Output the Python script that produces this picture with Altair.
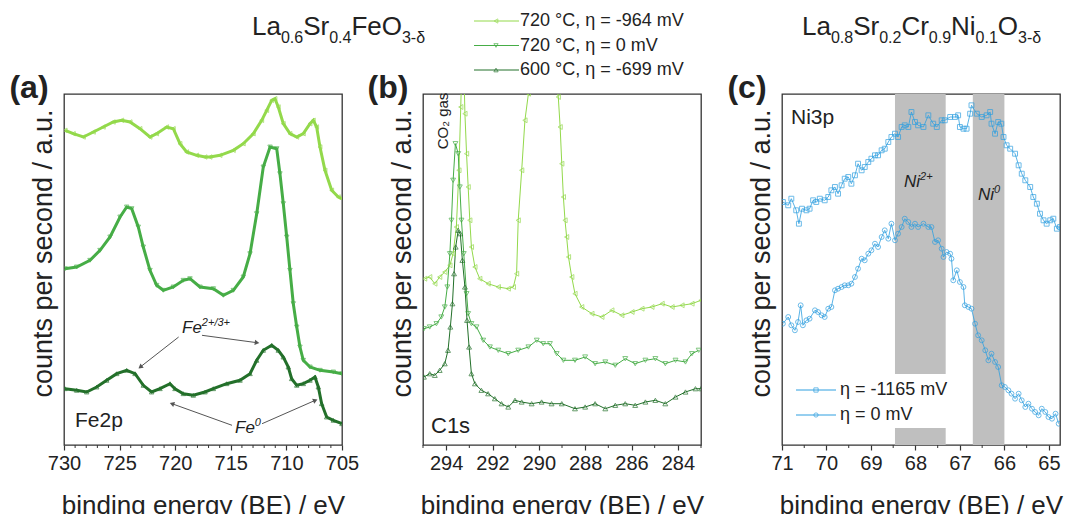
import math
import altair as alt
import pandas as pd

# ---------------- data ----------------
green_labels = ["720 °C, η = -964 mV", "720 °C, η = 0 mV", "600 °C, η = -699 mV"]
green_colors = ["#93d94b", "#46ad46", "#23702a"]
green_shapes = ["triangle-left", "triangle-down", "triangle-up"]

ni_labels = ["η = -1165 mV", "η = 0 mV"]
ni_shapes = ["square", "circle"]
ni_color = "#2f9fe0"

# Panel (a) Fe2p
fe_hot_neg_be = [729.9, 729.16, 728.26, 727.36, 726.47, 725.57, 724.81, 724.06, 723.17, 722.27,
                 721.67, 720.77, 720.17, 719.57, 718.97, 718.07, 717.32, 716.87, 715.97, 714.77,
                 713.88, 712.98, 712.22, 711.77, 711.32, 711.03, 710.73, 710.28, 709.68, 709.07,
                 708.48, 707.88, 707.58, 707.28, 706.98, 706.53, 705.93, 705.33, 705.0]
fe_hot_neg_cps = [314.7, 311.3, 308, 313, 318, 323, 324.7, 323, 316.3, 308,
                  311.3, 318, 316.3, 301.3, 293, 289.7, 288, 288, 289.7, 294.7,
                  301.3, 311.3, 324.7, 334.7, 344.7, 346.3, 338, 321.3, 311.3, 308,
                  311.3, 321.3, 324.7, 318, 298, 274.7, 254.7, 248, 246.3]
fe_hot_zero_be = [729.91, 728.86, 727.66, 726.76, 725.86, 724.96, 724.36, 723.91, 723.32, 722.87,
                  722.27, 721.67, 721.07, 720.17, 719.27, 718.67, 717.77, 716.57, 715.67, 714.77,
                  713.88, 713.27, 712.67, 712.08, 711.47, 710.87, 710.58, 710.28, 709.97, 709.68,
                  709.38, 709.07, 708.78, 708.48, 707.88, 706.98, 705.78, 705.0]
fe_hot_zero_cps = [176.3, 178, 184.7, 194.7, 208, 228, 238, 236.3, 218, 198,
                   174.7, 159.7, 154.7, 158, 164.7, 166.3, 158, 156.3, 149.7, 154.7,
                   168, 191.3, 231.3, 278, 298, 296.3, 271.3, 241.3, 208, 174.7,
                   141.3, 118, 98, 84.7, 78, 74.7, 73, 71.3]
fe_cool_neg_be = [729.91, 728.86, 727.96, 727.06, 726.16, 725.26, 724.36, 723.61, 722.87, 722.12,
                  721.37, 720.47, 720.02, 719.27, 718.37, 717.32, 716.57, 715.37, 714.17, 713.27,
                  712.67, 712.08, 711.32, 710.73, 710.28, 709.83, 709.53, 709.07, 708.48, 707.88,
                  707.43, 707.13, 706.83, 706.38, 705.78, 705.0]
fe_cool_neg_cps = [56.3, 54.7, 53, 58, 64.7, 71.3, 74.7, 71.3, 59.7, 53,
                   56.3, 61.3, 56.3, 51.3, 49.7, 53, 56.3, 61.3, 64.7, 71.3,
                   84.7, 94.7, 99.7, 94.7, 88, 78, 66.3, 59.7, 61.3, 64.7,
                   68, 58, 41.3, 28, 24.7, 21.3]

# Panel (b) C1s
c_hot_neg_be = [294.93, 294.71, 294.49, 294.28, 294.06, 293.84, 293.70, 293.56, 293.45, 293.37,
                293.28, 293.19, 293.12, 293.05, 292.98, 292.91, 292.76, 292.55, 292.19, 291.75,
                291.32, 291.10, 290.96, 290.89, 290.74, 290.60, 290.45, 290.2, 289.8, 289.45,
                289.16, 289.08, 289.01, 288.94, 288.87, 288.80, 288.72, 288.58, 288.44, 288.15,
                287.71, 287.28, 286.85, 286.42, 285.98, 285.55, 285.12, 284.68, 284.25, 283.82,
                283.39, 283.0]
c_hot_neg_cps = [166.3, 168, 161.3, 168, 173, 179.7, 191.3, 218, 274.7, 338,
                 420, 331.3, 291.3, 258, 224.7, 198, 178, 166.3, 161.3, 158,
                 156.3, 158, 171.3, 224.7, 274.7, 324.7, 351.3, 400, 430, 400,
                 348, 318, 281.3, 248, 224.7, 208, 188, 168, 151.3, 138,
                 131.3, 128, 134.7, 129.7, 133, 136.3, 138, 141.3, 138, 139.7,
                 141.3, 144.7]
c_hot_zero_be = [294.96, 294.71, 294.42, 294.21, 294.06, 293.95, 293.84, 293.77, 293.70, 293.60,
                 293.48, 293.41, 293.34, 293.24, 293.12, 293.05, 292.91, 292.69, 292.40, 292.11,
                 291.75, 291.32, 290.89, 290.45, 290.09, 289.81, 289.52, 289.23, 288.94, 288.44,
                 288.0, 287.57, 287.13, 286.70, 286.27, 285.84, 285.40, 284.97, 284.54, 284.10,
                 283.67, 283.39, 283.10]
c_hot_zero_cps = [116.3, 118, 121.3, 128, 138, 158, 191.3, 224.7, 264.7, 301.3,
                  291.3, 258, 224.7, 191.3, 151.3, 131.3, 121.3, 118, 104.7, 98,
                  94.7, 91.3, 94.7, 98, 104.7, 101.3, 101.3, 91.3, 84.7, 84.7,
                  88, 81.3, 83, 79.7, 86.3, 81.3, 84.7, 86.3, 81.3, 84.7,
                  83, 91.3, 94.7]
c_cool_neg_be = [294.96, 294.71, 294.49, 294.28, 294.06, 293.92, 293.82, 293.73, 293.66, 293.59,
                 293.48, 293.39, 293.30, 293.19, 293.10, 293.01, 292.91, 292.76, 292.48, 292.19,
                 291.90, 291.61, 291.32, 291.03, 290.74, 290.31, 289.88, 289.45, 289.01, 288.44,
                 288.0, 287.57, 287.13, 286.70, 286.27, 285.84, 285.40, 284.97, 284.54, 284.10,
                 283.67, 283.24, 283.0]
c_cool_neg_cps = [68, 71.3, 69.7, 74.7, 81.3, 94.7, 118, 141.3, 171.3, 198,
                  214.7, 211.3, 184.7, 158, 124.7, 98, 71.3, 61.3, 54.7, 51.3,
                  46.3, 41.3, 38, 44.7, 43, 41.3, 43, 41.3, 41.3, 36.3,
                  38, 41.3, 36.3, 39.7, 41.3, 39.7, 43, 44.7, 41.3, 48,
                  53, 56.3, 56.3]

# Panel (c) Ni3p
ni_neg_be = [70.98, 70.86, 70.79, 70.68, 70.62, 70.55, 70.45, 70.38, 70.30, 70.23,
             70.15, 70.04, 69.96, 69.89, 69.81, 69.74, 69.66, 69.59, 69.51, 69.44,
             69.36, 69.29, 69.21, 69.14, 69.06, 68.99, 68.91, 68.84, 68.76, 68.69,
             68.61, 68.54, 68.46, 68.39, 68.31, 68.24, 68.16, 68.09, 68.01, 67.94,
             67.82, 67.71, 67.60, 67.52, 67.41, 67.34, 67.22, 67.11, 67.04, 67.00,
             66.92, 66.85, 66.77, 66.74, 66.62, 66.51, 66.40, 66.32, 66.29, 66.21,
             66.14, 66.07, 66.02, 65.95, 65.87, 65.76, 65.68, 65.61, 65.53, 65.42,
             65.35, 65.27, 65.20, 65.12, 65.05, 64.97, 64.90, 64.82, 64.75]
ni_neg_cps = [243, 239.7, 246.3, 234.7, 221.3, 236.3, 234.7, 236.3, 244.7, 243,
              246.3, 244.7, 248, 254.7, 258, 251.3, 259.7, 266.3, 268, 261.3,
              269.7, 281.3, 274.7, 278, 283, 286.3, 289.7, 289.7, 294.7, 296.3,
              303, 308, 311.3, 308, 318, 319.7, 318, 333, 323, 319.7,
              318, 329.7, 321.3, 318, 324.7, 324.7, 328, 328, 329.7, 318,
              316.3, 316.3, 331.3, 339.7, 331.3, 328, 329.7, 333, 321.3, 311.3,
              323, 321.3, 308, 299.7, 296.3, 291.3, 279.7, 271.3, 264.7, 258,
              248, 241.3, 231.3, 224.7, 221.3, 224.7, 226.3, 216.3, 218]
ni_zero_be = [70.98, 70.86, 70.79, 70.71, 70.64, 70.58, 70.53, 70.45, 70.38, 70.26,
              70.19, 70.11, 70.04, 69.96, 69.89, 69.81, 69.74, 69.66, 69.59, 69.51,
              69.44, 69.36, 69.29, 69.21, 69.14, 69.06, 68.99, 68.91, 68.84, 68.76,
              68.69, 68.61, 68.54, 68.46, 68.39, 68.31, 68.24, 68.16, 68.09, 68.01,
              67.94, 67.82, 67.71, 67.64, 67.56, 67.49, 67.41, 67.37, 67.30, 67.22,
              67.19, 67.15, 67.07, 67.00, 66.92, 66.89, 66.81, 66.74, 66.66, 66.59,
              66.51, 66.43, 66.36, 66.29, 66.21, 66.14, 66.06, 65.99, 65.91, 65.84,
              65.76, 65.68, 65.61, 65.53, 65.46, 65.38, 65.31, 65.23, 65.16, 65.08,
              65.01, 64.93, 64.85, 64.78]
ni_zero_cps = [121.3, 128, 119.7, 114.7, 123, 139.7, 119.7, 124.7, 126.3, 134.7,
               133, 129.7, 128, 136.3, 138, 154.7, 156.3, 158, 159.7, 159.7,
               161.3, 168, 176.3, 186.3, 184.7, 191.3, 194.7, 201.3, 198, 208,
               214.7, 206.3, 221.3, 204.7, 211.3, 218, 226.3, 223, 218, 221.3,
               218, 221.3, 218, 218, 203, 204.7, 196.3, 188, 193, 191.3,
               186.3, 164.7, 174.7, 163, 158, 139.7, 138, 136.3, 121.3, 109.7,
               104.7, 94.7, 84.7, 91.3, 83, 78, 59.7, 58, 54.7, 51.3,
               46.3, 51.3, 44.7, 38, 41.3, 36.3, 33, 29.7, 36.3, 33,
               28, 26.3, 31.3, 21.3]

# Shaded regions of panel (c): Ni2+ (split around the legend) and Ni0
band_lo = [68.46, 68.46, 66.71]
band_hi = [67.32, 67.32, 66.0]
band_bottom = [71, 0, 0]
band_top = [351, 17, 351]

# Arrows of panel (a) (start -> end, in data units)
arrow_be = [719.69, 717.59, 714.89, 712.19]
arrow_cps = [108, 109.7, 19.7, 21.3]
arrow_be2 = [723.14, 712.64, 720.29, 707.40]
arrow_cps2 = [78, 102.3, 41.3, 44.7]

# Axis ticks
a_ticks = [730, 725, 720, 715, 710, 705]
a_minor = [729, 728, 727, 726, 724, 723, 722, 721, 719, 718, 717, 716, 714, 713, 712, 711, 709, 708, 707, 706]
b_ticks = [294, 292, 290, 288, 286, 284]
b_minor = [295, 293, 291, 289, 287, 285, 283]
c_ticks = [71, 70, 69, 68, 67, 66, 65]
c_minor = [70.5, 69.5, 68.5, 67.5, 66.5, 65.5]

a_domain = [730, 705]
b_domain = [295, 283]
c_domain = [71, 64.75]

# ---------------- layout / style ----------------
W, H = 278, 351
FONT = "Liberation Sans"
INK = "#222222"
XTITLE = "binding energy (BE) / eV"
YTITLE = "counts per second / a.u."

one = pd.DataFrame({"k": [0]})

CHAR_W = {"L": 556, "a": 556, "S": 667, "r": 333, "F": 611, "e": 556, "O": 778, "C": 722,
          "N": 722, "i": 222, ".": 278, "-": 333, "δ": 556, "+": 584, "/": 278}
for d in "0123456789":
    CHAR_W[d] = 556


def text_w(s, fs):
    return sum(CHAR_W.get(c, 556) for c in s) / 1000.0 * fs


def txt(text, x, y, size, align="left", baseline="alphabetic", weight="normal",
        style="normal", angle=0, color=INK):
    return alt.Chart(one).mark_text(
        text=text, fontSize=size, align=align, baseline=baseline, fontWeight=weight,
        fontStyle=style, angle=angle, font=FONT, color=color
    ).encode(x=alt.value(x), y=alt.value(y))


def formula(parts, x0, y_main, y_sub, fs_main, fs_sub, style="normal"):
    out = []
    x = x0
    for s, small in parts:
        fs = fs_sub if small else fs_main
        out.append(txt(s, x, y_sub if small else y_main, fs, style=style))
        x += text_w(s, fs)
    return out


def x_enc(domain, ticks):
    return alt.X("be:Q", scale=alt.Scale(domain=domain, nice=False, zero=False),
                 axis=alt.Axis(values=ticks, title=XTITLE, format="d"))


def y_enc():
    return alt.Y("cps:Q", scale=alt.Scale(domain=[0, 351], nice=False, zero=False),
                 axis=alt.Axis(title=YTITLE, labels=False, ticks=False, domain=False,
                               grid=False, titlePadding=7, titleY=159))


def series_layers(df, domain, ticks, labels, colors, shapes, line_w, pt_size):
    X = x_enc(domain, ticks)
    Y = y_enc()
    col = alt.Color("series:N", scale=alt.Scale(domain=labels, range=colors), legend=None)
    shp = alt.Shape("series:N", scale=alt.Scale(domain=labels, range=shapes), legend=None)
    line = alt.Chart(df).mark_line(strokeWidth=line_w, clip=True).encode(x=X, y=Y, color=col)
    pts = alt.Chart(df).mark_point(filled=False, size=pt_size, strokeWidth=1, clip=True).encode(
        x=X, y=Y, color=col, shape=shp)
    return [line, pts]


def minor_ticks(values):
    d = pd.DataFrame({"be": values})
    return alt.Chart(d).mark_rule(color="#333333", strokeWidth=1).encode(
        x="be:Q", y=alt.value(H), y2=alt.value(H + 3))


def legend_entry(x0, x1, xm, xt, y, color, shape, label, fs):
    return [
        alt.Chart(one).mark_rule(color=color, strokeWidth=1).encode(
            x=alt.value(x0), x2=alt.value(x1), y=alt.value(y)),
        alt.Chart(one).mark_point(shape=shape, color=color, filled=False, size=18, strokeWidth=1).encode(
            x=alt.value(xm), y=alt.value(y)),
        txt(label, xt, y, fs, baseline="middle"),
    ]


def mk(be, cps, label):
    return pd.DataFrame({"be": be, "cps": cps, "series": label})


# ---------------- panel (a) ----------------
df_a = pd.concat([mk(fe_hot_neg_be, fe_hot_neg_cps, green_labels[0]),
                  mk(fe_hot_zero_be, fe_hot_zero_cps, green_labels[1]),
                  mk(fe_cool_neg_be, fe_cool_neg_cps, green_labels[2])])

px_per_ev_a = W / abs(a_domain[0] - a_domain[1])
angles = []
for b0, c0, b1, c1 in zip(arrow_be, arrow_cps, arrow_be2, arrow_cps2):
    dx = -(b1 - b0) * px_per_ev_a
    dy = -(c1 - c0) * (H / 351.0)
    angles.append((math.degrees(math.atan2(dx, -dy)) + 360) % 360)
arrows = pd.DataFrame({"be": arrow_be, "cps": arrow_cps, "be2": arrow_be2, "cps2": arrow_cps2})
heads = pd.DataFrame({"be": arrow_be2, "cps": arrow_cps2, "ang": angles})

layers_a = series_layers(df_a, a_domain, a_ticks, green_labels, green_colors, green_shapes, 3.0, 20)
layers_a += [
    minor_ticks(a_minor),
    alt.Chart(arrows).mark_rule(color="#555555", strokeWidth=1).encode(
        x="be:Q", x2="be2:Q", y="cps:Q", y2="cps2:Q"),
    alt.Chart(heads).mark_point(shape="triangle-up", filled=True, size=28, color="#555555", opacity=1).encode(
        x="be:Q", y="cps:Q", angle=alt.Angle("ang:Q", scale=None)),
    txt("Fe2p", 11, 333, 21),
    txt("(a)", -35, 4, 32, align="center", weight="bold"),
    alt.Chart(one).mark_point(size=1, opacity=0).encode(x=alt.value(-62), y=alt.value(-92)),
]
layers_a += formula([("Fe", False), ("2+/3+", True)], 118, 239, 232, 17, 11, style="italic")
layers_a += formula([("Fe", False), ("0", True)], 171, 339, 332, 17, 11, style="italic")
layers_a += formula([("La", False), ("0.6", True), ("Sr", False), ("0.4", True),
                     ("FeO", False), ("3-δ", True)], 188, -59, -51, 26, 16)

panel_a = alt.layer(*layers_a).properties(width=W, height=H)

# ---------------- panel (b) ----------------
df_b = pd.concat([mk(c_hot_neg_be, c_hot_neg_cps, green_labels[0]),
                  mk(c_hot_zero_be, c_hot_zero_cps, green_labels[1]),
                  mk(c_cool_neg_be, c_cool_neg_cps, green_labels[2])])

layers_b = series_layers(df_b, b_domain, b_ticks, green_labels, green_colors, green_shapes, 1.0, 24)
layers_b += [
    minor_ticks(b_minor),
    txt("CO₂ gas", 20, 27, 15, align="center", baseline="middle", angle=270),
    txt("C1s", 8, 339, 22),
    txt("(b)", -35, 4, 32, align="center", weight="bold"),
]
for i, (lab, colr, shp) in enumerate(zip(green_labels, green_colors, green_shapes)):
    layers_b += legend_entry(51, 96, 73, 97, -73 + 24.5 * i, colr, shp, lab, 18)

panel_b = alt.layer(*layers_b).properties(width=W, height=H)

# ---------------- panel (c) ----------------
df_c = pd.concat([mk(ni_neg_be, ni_neg_cps, ni_labels[0]),
                  mk(ni_zero_be, ni_zero_cps, ni_labels[1])])
bands = pd.DataFrame({"be": band_lo, "be2": band_hi, "cps": band_bottom, "cps2": band_top})

layers_c = [alt.Chart(bands).mark_rect(color="#bfbfbf").encode(
    x=x_enc(c_domain, c_ticks), x2="be2:Q", y=y_enc(), y2="cps2:Q")]
layers_c += series_layers(df_c, c_domain, c_ticks, ni_labels, [ni_color, ni_color], ni_shapes, 0.8, 24)
layers_c += [
    minor_ticks(c_minor),
    txt("Ni3p", 9, 30, 21),
    txt("(c)", -35, 4, 32, align="center", weight="bold"),
]
layers_c += formula([("Ni", False), ("2+", True)], 122, 93, 86, 17, 11, style="italic")
layers_c += formula([("Ni", False), ("0", True)], 196, 106, 99, 17, 11, style="italic")
for i, (lab, shp) in enumerate(zip(ni_labels, ni_shapes)):
    layers_c += legend_entry(14, 54, 34, 58, 296 + 25 * i, ni_color, shp, lab, 18)
layers_c += formula([("La", False), ("0.8", True), ("Sr", False), ("0.2", True),
                     ("Cr", False), ("0.9", True), ("Ni", False), ("0.1", True),
                     ("O", False), ("3-δ", True)], 20, -59, -51, 26, 16)

panel_c = alt.layer(*layers_c).properties(width=W, height=H)

chart = alt.hconcat(panel_a, panel_b, panel_c, spacing=81, bounds="flush").resolve_scale(
    color="independent", shape="independent"
).properties(
    padding=0, background="white"
).configure_view(
    stroke="#333333", strokeWidth=1.3
).configure_axisX(
    labelFont=FONT, labelFontSize=20, labelColor=INK, labelPadding=3, labelFlush=False,
    labelOverlap=False, tickColor="#333333", tickSize=5, tickWidth=1.2, domain=False, grid=False,
    titleFont=FONT, titleFontSize=26, titleFontWeight="normal", titleColor=INK, titlePadding=19
).configure_axisY(
    titleFont=FONT, titleFontSize=27, titleFontWeight="normal", titleColor=INK
)

chart.save("out.html", embed_options={"renderer": "svg", "actions": False})
